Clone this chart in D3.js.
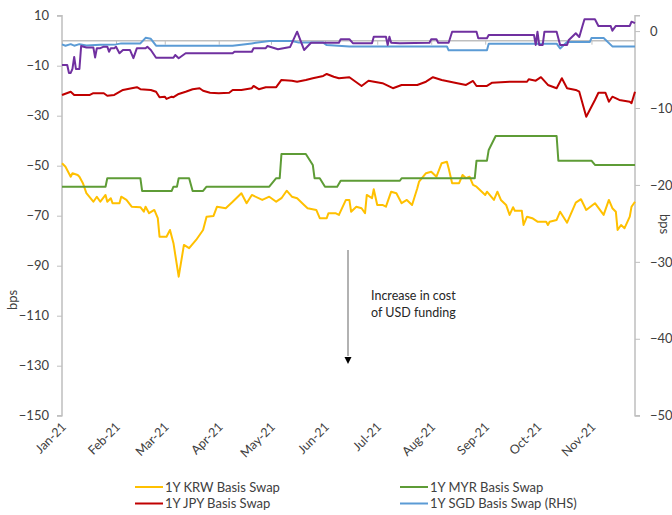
<!DOCTYPE html>
<html><head><meta charset="utf-8">
<script src="https://cdn.jsdelivr.net/npm/d3@7"></script>
<style>
html,body{margin:0;padding:0;background:#fff;}
svg{display:block;font-family:Lato,"Liberation Sans",sans-serif;}
</style></head>
<body><svg id="c" width="672" height="515"></svg>
<script>
// ---------- data ----------
const monthTicks = ["2021-01-01","2021-02-01","2021-03-01","2021-04-01","2021-05-01","2021-06-01","2021-07-01","2021-08-01","2021-09-01","2021-10-01","2021-11-01"];
const leftTicks = [10,-10,-30,-50,-70,-90,-110,-130,-150];
const rightTicks = [0,-10,-20,-30,-40,-50];
const seriesNames = ["1Y KRW Basis Swap","1Y MYR Basis Swap","1Y JPY Basis Swap","1Y SGD Basis Swap (RHS)"];

const krw = [["2021-01-01",-49.0],["2021-01-03",-50.4],["2021-01-06",-54.4],["2021-01-07",-53.0],["2021-01-10",-53.7],["2021-01-11",-54.4],["2021-01-13",-57.0],["2021-01-15",-61.0],["2021-01-19",-64.4],["2021-01-21",-62.4],["2021-01-23",-64.4],["2021-01-26",-61.7],["2021-01-27",-64.4],["2021-01-29",-63.0],["2021-01-30",-65.0],["2021-02-03",-65.0],["2021-02-04",-62.4],["2021-02-07",-63.7],["2021-02-10",-66.4],["2021-02-15",-66.6],["2021-02-17",-68.4],["2021-02-18",-66.4],["2021-02-20",-69.0],["2021-02-23",-67.7],["2021-02-25",-71.0],["2021-02-26",-78.4],["2021-03-02",-78.4],["2021-03-04",-75.7],["2021-03-06",-81.0],["2021-03-09",-94.4],["2021-03-12",-81.7],["2021-03-15",-83.0],["2021-03-19",-79.7],["2021-03-23",-75.7],["2021-03-25",-70.4],["2021-03-29",-70.1],["2021-03-31",-66.4],["2021-04-05",-67.0],["2021-04-09",-64.4],["2021-04-14",-61.0],["2021-04-17",-65.0],["2021-04-20",-61.7],["2021-04-26",-63.7],["2021-04-30",-62.4],["2021-05-04",-64.4],["2021-05-07",-63.0],["2021-05-10",-60.0],["2021-05-13",-62.4],["2021-05-16",-63.0],["2021-05-20",-65.7],["2021-05-22",-67.0],["2021-05-27",-67.7],["2021-05-29",-71.0],["2021-06-02",-71.0],["2021-06-03",-69.0],["2021-06-07",-69.0],["2021-06-09",-69.7],["2021-06-13",-63.7],["2021-06-15",-63.7],["2021-06-16",-68.4],["2021-06-19",-66.4],["2021-06-22",-67.0],["2021-06-24",-69.0],["2021-06-25",-61.7],["2021-06-28",-63.0],["2021-06-29",-59.4],["2021-07-01",-65.7],["2021-07-04",-65.7],["2021-07-06",-66.4],["2021-07-07",-64.4],["2021-07-09",-60.4],["2021-07-12",-61.0],["2021-07-15",-65.0],["2021-07-18",-63.7],["2021-07-21",-65.7],["2021-07-24",-59.0],["2021-07-25",-56.4],["2021-07-29",-53.0],["2021-08-01",-52.4],["2021-08-04",-54.4],["2021-08-07",-49.0],["2021-08-10",-48.4],["2021-08-11",-51.0],["2021-08-13",-57.0],["2021-08-17",-57.0],["2021-08-19",-53.7],["2021-08-21",-55.0],["2021-08-23",-54.4],["2021-08-25",-57.7],["2021-08-27",-58.4],["2021-09-01",-61.7],["2021-09-02",-60.4],["2021-09-06",-63.7],["2021-09-08",-60.4],["2021-09-10",-63.7],["2021-09-13",-65.7],["2021-09-15",-69.7],["2021-09-17",-66.6],["2021-09-18",-68.0],["2021-09-22",-68.0],["2021-09-23",-73.7],["2021-09-25",-70.4],["2021-09-28",-71.0],["2021-10-01",-72.4],["2021-10-06",-72.4],["2021-10-07",-73.7],["2021-10-08",-72.4],["2021-10-12",-71.7],["2021-10-14",-68.4],["2021-10-18",-72.8],["2021-10-23",-64.8],["2021-10-26",-63.4],["2021-10-29",-67.7],["2021-11-03",-65.0],["2021-11-08",-69.7],["2021-11-11",-63.7],["2021-11-13",-67.0],["2021-11-15",-68.4],["2021-11-16",-75.7],["2021-11-18",-73.7],["2021-11-20",-75.0],["2021-11-23",-70.4],["2021-11-24",-66.4],["2021-11-26",-64.4]];

const myr = [["2021-01-01",-58.4],["2021-01-26",-58.4],["2021-01-27",-55.0],["2021-02-15",-55.0],["2021-02-16",-60.1],["2021-03-05",-60.1],["2021-03-06",-58.4],["2021-03-08",-58.4],["2021-03-09",-55.0],["2021-03-15",-55.0],["2021-03-17",-60.1],["2021-03-23",-60.1],["2021-03-25",-58.4],["2021-04-30",-58.4],["2021-05-04",-55.0],["2021-05-06",-55.0],["2021-05-07",-45.3],["2021-05-21",-45.3],["2021-05-25",-49.7],["2021-05-26",-55.0],["2021-05-29",-55.0],["2021-06-01",-58.4],["2021-06-08",-58.4],["2021-06-10",-56.0],["2021-07-14",-56.0],["2021-07-15",-55.0],["2021-08-26",-55.0],["2021-08-27",-48.0],["2021-09-02",-48.0],["2021-09-03",-43.7],["2021-09-07",-38.1],["2021-10-12",-38.1],["2021-10-13",-48.0],["2021-11-01",-48.0],["2021-11-03",-49.7],["2021-11-26",-49.7]];

const jpy = [["2021-01-01",-21.7],["2021-01-06",-20.4],["2021-01-08",-21.7],["2021-01-17",-21.7],["2021-01-19",-21.0],["2021-01-25",-21.0],["2021-01-27",-22.0],["2021-01-31",-21.7],["2021-02-05",-19.7],["2021-02-10",-19.0],["2021-02-13",-18.6],["2021-02-15",-19.4],["2021-02-21",-19.7],["2021-02-24",-20.4],["2021-02-26",-22.6],["2021-03-01",-22.4],["2021-03-02",-23.3],["2021-03-05",-22.4],["2021-03-06",-22.6],["2021-03-09",-21.3],["2021-03-13",-20.4],["2021-03-17",-19.4],["2021-03-21",-19.0],["2021-03-23",-20.0],["2021-03-27",-20.8],["2021-04-01",-21.0],["2021-04-07",-20.8],["2021-04-09",-19.7],["2021-04-14",-19.7],["2021-04-20",-19.0],["2021-04-21",-18.1],["2021-04-24",-19.4],["2021-04-28",-18.6],["2021-05-04",-18.6],["2021-05-07",-15.7],["2021-05-13",-16.0],["2021-05-16",-16.4],["2021-05-21",-15.7],["2021-05-25",-15.0],["2021-05-31",-14.1],["2021-06-02",-13.3],["2021-06-06",-14.4],["2021-06-09",-15.0],["2021-06-15",-14.6],["2021-06-22",-18.1],["2021-06-26",-16.0],["2021-07-04",-17.0],["2021-07-10",-19.0],["2021-07-15",-17.7],["2021-07-24",-17.7],["2021-07-29",-16.4],["2021-08-02",-14.6],["2021-08-07",-15.7],["2021-08-16",-17.0],["2021-08-21",-17.7],["2021-08-25",-16.1],["2021-08-27",-18.1],["2021-09-02",-18.1],["2021-09-05",-16.8],["2021-09-15",-16.4],["2021-09-25",-16.4],["2021-09-26",-15.4],["2021-09-30",-16.0],["2021-10-03",-14.6],["2021-10-07",-17.7],["2021-10-12",-19.0],["2021-10-15",-15.0],["2021-10-18",-19.0],["2021-10-23",-19.7],["2021-10-25",-20.4],["2021-10-29",-30.4],["2021-11-03",-23.7],["2021-11-05",-20.8],["2021-11-09",-20.8],["2021-11-11",-24.4],["2021-11-13",-22.4],["2021-11-17",-23.7],["2021-11-23",-24.4],["2021-11-24",-25.0],["2021-11-26",-20.4]];

const sgd = [["2021-01-01",-1.73],["2021-01-03",-1.9],["2021-01-06",-1.7],["2021-01-08",-1.9],["2021-01-11",-1.7],["2021-01-15",-1.86],["2021-01-23",-1.77],["2021-02-01",-1.73],["2021-02-04",-1.6],["2021-02-15",-1.6],["2021-02-18",-0.88],["2021-02-21",-1.0],["2021-02-24",-1.9],["2021-04-09",-1.9],["2021-04-20",-1.6],["2021-04-30",-1.3],["2021-05-13",-1.3],["2021-05-17",-1.5],["2021-05-31",-1.5],["2021-06-02",-1.82],["2021-06-15",-1.99],["2021-08-10",-1.99],["2021-08-11",-2.5],["2021-09-02",-2.5],["2021-09-03",-1.64],["2021-10-12",-1.64],["2021-10-14",-2.25],["2021-10-18",-1.43],["2021-10-31",-1.43],["2021-11-01",-0.91],["2021-11-08",-0.91],["2021-11-13",-1.99],["2021-11-26",-1.99]];

const other = [["2021-01-01",-9.7],["2021-01-04",-9.7],["2021-01-05",-12.9],["2021-01-06",-12.9],["2021-01-07",-11.3],["2021-01-08",-6.5],["2021-01-09",-11.3],["2021-01-11",-11.3],["2021-01-12",-2.1],["2021-01-15",-2.7],["2021-01-19",-2.7],["2021-01-20",-6.7],["2021-01-21",-3.0],["2021-01-23",-3.0],["2021-01-25",-2.4],["2021-01-27",-2.4],["2021-01-28",-4.4],["2021-01-29",-3.0],["2021-01-31",-3.0],["2021-02-01",-2.4],["2021-02-03",-5.0],["2021-02-05",-3.7],["2021-02-09",-3.7],["2021-02-11",-7.0],["2021-02-13",-3.0],["2021-02-18",-3.0],["2021-02-19",-2.4],["2021-02-21",-3.7],["2021-02-24",-6.8],["2021-03-06",-6.8],["2021-03-07",-5.7],["2021-03-09",-7.0],["2021-03-13",-5.0],["2021-04-09",-5.0],["2021-04-10",-4.4],["2021-04-20",-4.4],["2021-04-21",-3.0],["2021-04-28",-3.0],["2021-04-29",-2.1],["2021-05-05",-3.4],["2021-05-12",-2.5],["2021-05-16",3.6],["2021-05-20",-3.7],["2021-05-24",-0.8],["2021-06-09",-0.8],["2021-06-10",0.6],["2021-06-15",0.6],["2021-06-17",-1.0],["2021-06-28",-1.0],["2021-06-29",1.6],["2021-07-06",1.6],["2021-07-07",-1.7],["2021-07-08",1.6],["2021-07-09",-0.8],["2021-07-14",-1.0],["2021-07-31",-0.8],["2021-08-01",0.6],["2021-08-04",0.6],["2021-08-05",-0.8],["2021-08-11",-0.8],["2021-08-13",3.6],["2021-08-27",3.6],["2021-08-28",1.0],["2021-09-02",1.0],["2021-09-03",2.3],["2021-09-29",2.3],["2021-09-30",-1.7],["2021-10-01",3.6],["2021-10-02",-1.7],["2021-10-04",-1.7],["2021-10-05",3.6],["2021-10-12",3.6],["2021-10-14",-1.7],["2021-10-18",-1.7],["2021-10-19",0.3],["2021-10-23",3.0],["2021-10-25",1.5],["2021-10-27",6.3],["2021-10-28",8.6],["2021-11-03",8.6],["2021-11-05",5.9],["2021-11-12",5.9],["2021-11-13",4.0],["2021-11-15",5.9],["2021-11-23",5.9],["2021-11-24",7.6],["2021-11-26",7.0]];

const annotationLines = ["Increase in cost","of USD funding"];

// ---------- chart ----------
const parse = d3.timeParse("%Y-%m-%d");
const svg = d3.select("#c");
const X0 = 62, X1 = 635, YT = 15.7, YB = 415.7;
const x = d3.scaleTime().domain([parse("2021-01-01"), parse("2021-11-26")]).range([X0, X1]);
const yL = d3.scaleLinear().domain([-150, 10]).range([YB, YT]);
const yR = d3.scaleLinear().domain([-50, 2]).range([YB, YT]);
const axisColor = "#BFBFBF", textColor = "#404040";

// left axis
const gL = svg.append("g").attr("transform", `translate(${X0},0)`)
  .call(d3.axisLeft(yL).tickValues(leftTicks).tickSize(5).tickPadding(8).tickFormat(d3.format("d")));
// right axis
const gR = svg.append("g").attr("transform", `translate(${X1},0)`)
  .call(d3.axisRight(yR).tickValues(rightTicks).tickSize(5).tickPadding(10).tickFormat(d3.format("d")));
[gL, gR].forEach(g => {
  g.select(".domain").attr("stroke", axisColor).attr("stroke-width", 1.5);
  g.selectAll(".tick line").attr("stroke", axisColor);
  g.selectAll(".tick text").attr("fill", textColor).style("font-size", "13px").style("font-family", "Lato");
});
gL.select(".domain").attr("d", `M-5,${YT}H0V${YB}H-5`);
gR.select(".domain").attr("d", `M5,${YT}H0V${YB}H5`);

// category axis at 0 (left)
const y0 = yL(0);
const gX = svg.append("g").attr("transform", `translate(0,${y0})`)
  .call(d3.axisBottom(x).tickValues(monthTicks.map(parse)).tickSize(4).tickFormat(""));
gX.select(".domain").attr("stroke", axisColor).attr("stroke-width", 1.5).attr("d", `M${X0},0H${X1}`);
gX.selectAll(".tick line").attr("stroke", axisColor);

// month labels at bottom
const fmt = d3.timeFormat("%b-%y");
svg.append("g").selectAll("text").data(monthTicks.map(parse)).join("text")
  .attr("transform", d => `translate(${x(d) + 5},${YB + 12}) rotate(-45)`)
  .attr("text-anchor", "end")
  .attr("fill", textColor)
  .style("font-size", "12.5px")
  .text(d => fmt(d));

// axis titles
svg.append("text").attr("transform", `translate(17,300) rotate(-90)`)
  .attr("text-anchor", "middle").attr("fill", textColor).style("font-size", "13px").text("bps");
svg.append("text").attr("transform", `translate(660,224) rotate(90)`)
  .attr("text-anchor", "middle").attr("fill", textColor).style("font-size", "13px").text("bps");

// lines
const mkLine = (ys) => d3.line().x(d => x(parse(d[0]))).y(d => ys(d[1]));
const series = [
  {data: krw, color: "#FFC000", scale: yL},
  {data: myr, color: "#5E9C36", scale: yL},
  {data: jpy, color: "#C00000", scale: yL},
  {data: sgd, color: "#5B9BD5", scale: yR},
  {data: other, color: "#7030A0", scale: yL}
];
svg.append("g").selectAll("path").data(series).join("path")
  .attr("fill", "none").attr("stroke", d => d.color).attr("stroke-width", 2)
  .attr("stroke-linejoin", "round")
  .attr("d", d => mkLine(d.scale)(d.data));

// annotation arrow
svg.append("line").attr("x1", 348).attr("x2", 348).attr("y1", 250).attr("y2", 356)
  .attr("stroke", "#7F7F7F").attr("stroke-width", 1.2);
svg.append("path").attr("d", "M344.5,357L351.5,357L348,364Z").attr("fill", "#000");
svg.append("g").selectAll("text").data(annotationLines).join("text")
  .attr("x", 371).attr("y", (d, i) => 300 + i * 17)
  .attr("fill", "#262626").style("font-size", "12.5px").text(d => d);

// legend
const legendColors = ["#FFC000", "#5E9C36", "#C00000", "#5B9BD5"];
const lg = svg.append("g");
seriesNames.forEach((name, i) => {
  const col = i % 2, row = Math.floor(i / 2);
  const lx = col === 0 ? 135 : 400, ly = 487 + row * 16.5;
  lg.append("line").attr("x1", lx).attr("x2", lx + 28).attr("y1", ly).attr("y2", ly)
    .attr("stroke", legendColors[i]).attr("stroke-width", 2);
  lg.append("text").attr("x", lx + 30).attr("y", ly + 4.5).attr("fill", textColor)
    .style("font-size", "13px").text(name);
});
</script></body></html>
